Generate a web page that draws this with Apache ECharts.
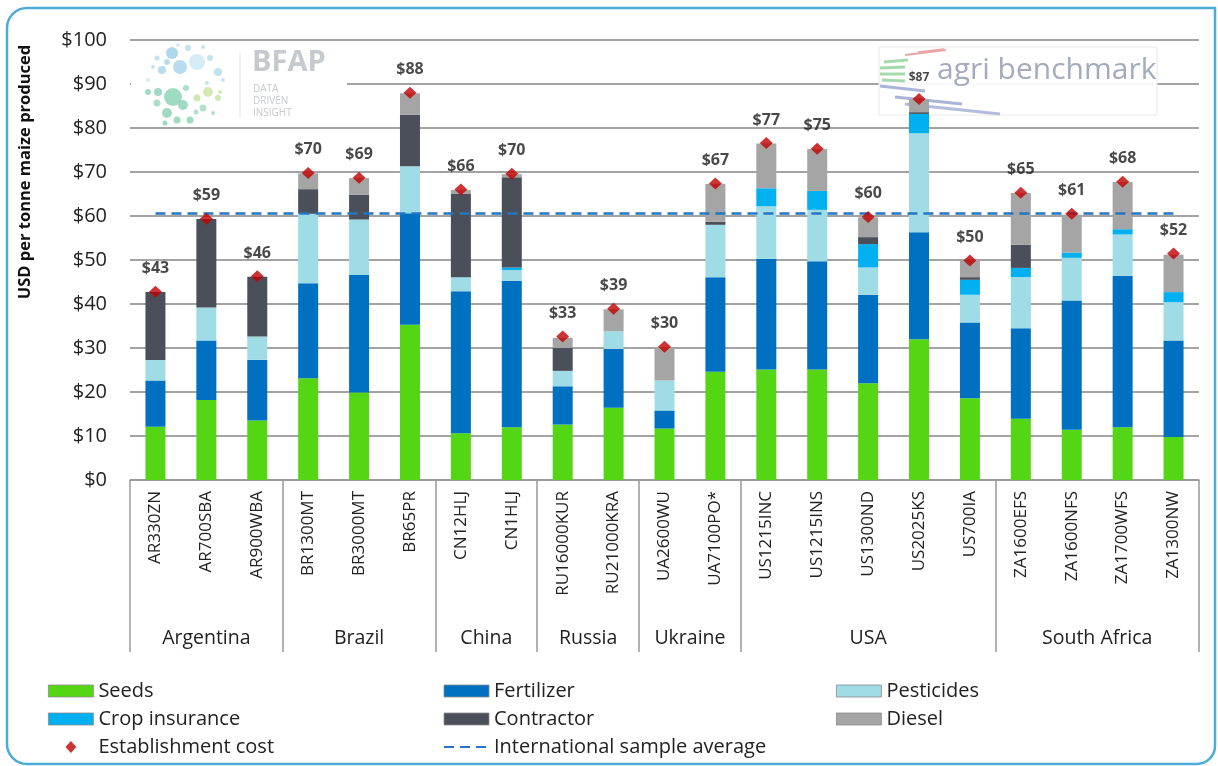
<!DOCTYPE html>
<html>
<head>
<meta charset="utf-8">
<script src="https://cdn.jsdelivr.net/npm/echarts@6/dist/echarts.min.js"></script>
<style>
html,body{margin:0;padding:0;background:#fff;}
#chart{width:1218px;height:766px;}
</style>
</head>
<body>
<div id="chart"></div>
<script>
const sites = ['AR330ZN','AR700SBA','AR900WBA','BR1300MT','BR3000MT','BR65PR','CN12HLJ','CN1HLJ','RU16000KUR','RU21000KRA','UA2600WU','UA7100PO*','US1215INC','US1215INS','US1300ND','US2025KS','US700IA','ZA1600EFS','ZA1600NFS','ZA1700WFS','ZA1300NW'];
const countries = ['Argentina','Brazil','China','Russia','Ukraine','USA','South Africa'];
const countrySizes = [3,3,2,2,2,5,4];

const seeds      = [12.1,18.2,13.5,23.1,19.9,35.3,10.6,12.0,12.6,16.4,11.7,24.6,25.1,25.1,22.0,32.0,18.6,13.9,11.4,12.0,9.8];
const fertilizer = [10.5,13.5,13.8,21.6,26.7,25.3,32.3,33.3,8.7,13.4,4.1,21.5,25.2,24.6,20.1,24.3,17.2,20.6,29.4,34.4,21.9];
const pesticides = [4.7,7.5,5.3,15.8,12.6,10.7,3.2,2.4,3.5,4.0,6.8,11.9,11.9,11.7,6.2,22.5,6.3,11.6,9.7,9.4,8.7];
const cropInsurance = [0,0,0,0,0,0,0,0.6,0,0,0,0,4.1,4.3,5.3,4.4,3.4,2.1,1.2,1.2,2.3];
const contractor = [15.4,20.1,13.6,5.6,5.6,11.7,18.9,20.5,5.2,0,0,0.7,0,0,1.6,0.4,0.6,5.3,0,0,0];
const diesel     = [0,0,0,3.6,3.8,4.9,0.9,0.7,2.3,5.0,7.6,8.6,10.2,9.5,4.5,3.0,3.7,11.7,8.6,10.7,8.5];
const establishmentCost = [42.8,59.4,46.3,69.8,68.7,88.0,66.0,69.6,32.6,38.9,30.3,67.4,76.6,75.3,59.8,86.6,49.9,65.3,60.5,67.8,51.5];
const internationalAverage = 60.6;
const yTicks = [0,10,20,30,40,50,60,70,80,90,100];

const FONT = '"Open Sans", "Noto Sans", sans-serif';
const TXT = '#222';

// group boundaries and centres for the country axis
const bounds = [0];
countrySizes.forEach(s => bounds.push(bounds[bounds.length-1] + s));
const centres = countries.map((c,i) => (bounds[i] + bounds[i+1]) / 2);

const barDefs = [
  ['Seeds', seeds, '#55d615'],
  ['Fertilizer', fertilizer, '#0070c0'],
  ['Pesticides', pesticides, '#a0dce6'],
  ['Crop insurance', cropInsurance, '#00b0f0'],
  ['Contractor', contractor, '#4b4f59'],
  ['Diesel', diesel, '#a5a5a5']
];

const series = barDefs.map(([name, data, color]) => ({
  name, type: 'bar', stack: 'cost', data, barWidth: 20,
  itemStyle: { color },
  emphasis: { disabled: true },
  z: 2
}));

series.push({
  name: 'Establishment cost', type: 'scatter', symbol: 'diamond', symbolSize: [13, 12],
  itemStyle: { color: '#c00000' },
  data: establishmentCost.map((v, i) => sites[i] === 'US2025KS' ? { value: v, label: { fontSize: 12 } } : v),
  label: {
    show: true, position: 'top', distance: 9,
    formatter: p => '$' + Math.round(p.value),
    fontFamily: FONT, fontWeight: 'bold', fontSize: 16, color: '#1a1a1a'
  },
  z: 5
});

series.push({
  name: 'International sample average', type: 'line', data: [],
  symbol: 'none',
  lineStyle: { color: '#2475c4', width: 2.5, type: [10, 6] },
  itemStyle: { color: 'rgba(0,0,0,0)', borderWidth: 0, opacity: 0 },
  markLine: {
    silent: true, symbol: 'none', label: { show: false },
    lineStyle: { color: '#2475c4', width: 2.5, type: [10, 6], opacity: 1 },
    data: [[{ xAxis: sites[0], yAxis: internationalAverage }, { xAxis: sites[sites.length-1], yAxis: internationalAverage }]]
  },
  z: 4
});

const legendBase = {
  orient: 'vertical', itemWidth: 45, itemHeight: 12, itemGap: 8, top: 681, padding: 0,
  textStyle: { fontFamily: FONT, fontSize: 20, color: TXT, lineHeight: 20 },
  itemStyle: { borderColor: '#8a8a8a', borderWidth: 0.8 },
  selectedMode: false
};
const diamondIcon = 'path://M0,-1L0.9,0L0,1L-0.9,0Z';

// BFAP logo circles (decoration)
const bfapDots = [
  [172,53,6,'#9fd0e6'],[180,67,7,'#a9d6ea'],[197,62,8,'#cfe9f3'],[162,70,4,'#a9d6ea'],[218,72,4,'#b7dded'],
  [153,67,2,'#b7dded'],[210,58,3,'#b7dded'],[188,48,3,'#b7dded'],[167,62,3,'#a9d6ea'],[207,83,2,'#b7dded'],
  [223,80,2,'#b7dded'],[148,80,2,'#cfe9f3'],[178,45,2,'#cfe9f3'],[203,47,2,'#b7dded'],[157,58,2.5,'#b7dded'],
  [173,97,9,'#8ed3b9'],[167,113,5,'#8ed3b9'],[157,103,3.5,'#9ad8c0'],[148,92,3,'#8ed3b9'],[183,105,5,'#8ed3b9'],
  [208,92,5,'#cbe7a6'],[197,98,3.5,'#c2e4a8'],[203,108,3.5,'#a8dcc4'],[190,120,3.5,'#8ed3b9'],[177,120,3.5,'#8ed3b9'],
  [218,98,3,'#c2e4a8'],[213,113,2,'#a8dcc4'],[220,92,2,'#cbe7a6'],[158,92,4,'#8ed3b9'],[196,112,2.5,'#a8dcc4'],
  [165,123,2.5,'#8ed3b9'],[186,88,3,'#9ad8c0']
];

const graphics = [
  { type: 'rect', z: 100, silent: true,
    shape: { x: 7, y: 8, width: 1208, height: 756, r: [20, 0, 18, 20] },
    style: { fill: 'none', stroke: '#4bacd6', lineWidth: 2.5 } },
  { type: 'text', z: 100, x: 25, y: 172, rotation: Math.PI / 2,
    style: { text: 'USD per tonne maize produced', font: 'bold 16.5px ' + FONT, fill: '#111', align: 'center', verticalAlign: 'middle' } },
  // BFAP logo
  { type: 'rect', z: 1, silent: true, shape: { x: 131, y: 44, width: 216, height: 82 }, style: { fill: '#fff' } },
  ...bfapDots.map(([x, y, r, c]) => ({ type: 'circle', z: 1, silent: true, shape: { cx: x, cy: y, r }, style: { fill: c, opacity: 0.85 } })),
  { type: 'line', z: 1, silent: true, shape: { x1: 240, y1: 52, x2: 240, y2: 118 }, style: { stroke: '#e2e2e2', lineWidth: 1 } },
  { type: 'text', z: 1, x: 252, y: 48, style: { text: 'BFAP', font: 'bold 29px ' + FONT, fill: '#c6c9cd' } },
  { type: 'text', z: 1, x: 253, y: 84, style: { text: 'DATA', font: '10px ' + FONT, fill: '#c6c9cd' } },
  { type: 'text', z: 1, x: 253, y: 96, style: { text: 'DRIVEN', font: '10px ' + FONT, fill: '#c6c9cd' } },
  { type: 'text', z: 1, x: 253, y: 108, style: { text: 'INSIGHT', font: '10px ' + FONT, fill: '#c6c9cd' } },
  // agri benchmark logo
  { type: 'rect', z: 1, silent: true, shape: { x: 879, y: 47, width: 278, height: 68 }, style: { fill: 'rgba(255,255,255,0.93)', stroke: '#e8e8e8', lineWidth: 1 } },
  { type: 'line', z: 1, shape: { x1: 905, y1: 55, x2: 946, y2: 50 }, style: { stroke: '#eaa4a4', lineWidth: 2 } },
  { type: 'line', z: 1, shape: { x1: 918, y1: 52, x2: 944, y2: 49 }, style: { stroke: '#eaa4a4', lineWidth: 1.5 } },
  { type: 'line', z: 1, shape: { x1: 884, y1: 62, x2: 908, y2: 60 }, style: { stroke: '#a6d8ad', lineWidth: 3 } },
  { type: 'line', z: 1, shape: { x1: 880, y1: 68, x2: 905, y2: 67 }, style: { stroke: '#a6d8ad', lineWidth: 3 } },
  { type: 'line', z: 1, shape: { x1: 880, y1: 74, x2: 905, y2: 74 }, style: { stroke: '#a6d8ad', lineWidth: 3 } },
  { type: 'line', z: 1, shape: { x1: 882, y1: 80, x2: 905, y2: 81 }, style: { stroke: '#a6d8ad', lineWidth: 3 } },
  { type: 'line', z: 1, shape: { x1: 880, y1: 86, x2: 925, y2: 91 }, style: { stroke: '#aab4d8', lineWidth: 3 } },
  { type: 'line', z: 1, shape: { x1: 895, y1: 97, x2: 962, y2: 104 }, style: { stroke: '#aab4d8', lineWidth: 3 } },
  { type: 'line', z: 1, shape: { x1: 905, y1: 104, x2: 1000, y2: 114 }, style: { stroke: '#b4bcdc', lineWidth: 3 } },
  { type: 'text', z: 1, x: 937, y: 70, style: { text: 'agri benchmark', font: '30px ' + FONT, fill: '#a3abbd', verticalAlign: 'middle' } }
];

const chart = echarts.init(document.getElementById('chart'), null, { renderer: 'canvas' });
chart.setOption({
  animation: false,
  backgroundColor: '#fff',
  textStyle: { fontFamily: FONT },
  grid: { left: 130, right: 19, top: 40, bottom: 286, containLabel: false },
  legend: [
    Object.assign({}, legendBase, { left: 48, data: [{ name: 'Seeds', icon: 'rect' }, { name: 'Crop insurance', icon: 'rect' }, { name: 'Establishment cost', icon: diamondIcon, itemStyle: { borderWidth: 0 } }] }),
    Object.assign({}, legendBase, { left: 443, data: [{ name: 'Fertilizer', icon: 'rect' }, { name: 'Contractor', icon: 'rect' }, 'International sample average'] }),
    Object.assign({}, legendBase, { left: 836, data: [{ name: 'Pesticides', icon: 'rect' }, { name: 'Diesel', icon: 'rect' }] })
  ],
  xAxis: [
    {
      type: 'category', data: sites, position: 'bottom',
      axisLine: { lineStyle: { color: '#999', width: 1.5 } },
      axisTick: { show: false },
      axisLabel: { interval: 0, rotate: 90, fontSize: 17, color: TXT, margin: 11, fontFamily: FONT }
    },
    {
      type: 'value', min: 0, max: sites.length, position: 'bottom',
      axisLine: { show: false },
      splitLine: { show: false },
      axisTick: { show: true, customValues: bounds, length: 172, lineStyle: { color: '#999', width: 1.5 } },
      axisLabel: {
        customValues: centres, margin: 148, fontSize: 19.5, color: TXT, fontFamily: FONT,
        formatter: v => { const i = centres.indexOf(v); return i >= 0 ? countries[i] : ''; }
      }
    }
  ],
  yAxis: {
    type: 'value', min: 0, max: 100, interval: 10,
    axisLine: { show: false }, axisTick: { show: false },
    axisLabel: { formatter: v => yTicks.includes(v) ? '$' + v : '', fontSize: 20, color: TXT, margin: 23, fontFamily: FONT },
    splitLine: { lineStyle: { color: '#a3a3a3', width: 2 } }
  },
  series,
  graphic: graphics
});
</script>
</body>
</html>
